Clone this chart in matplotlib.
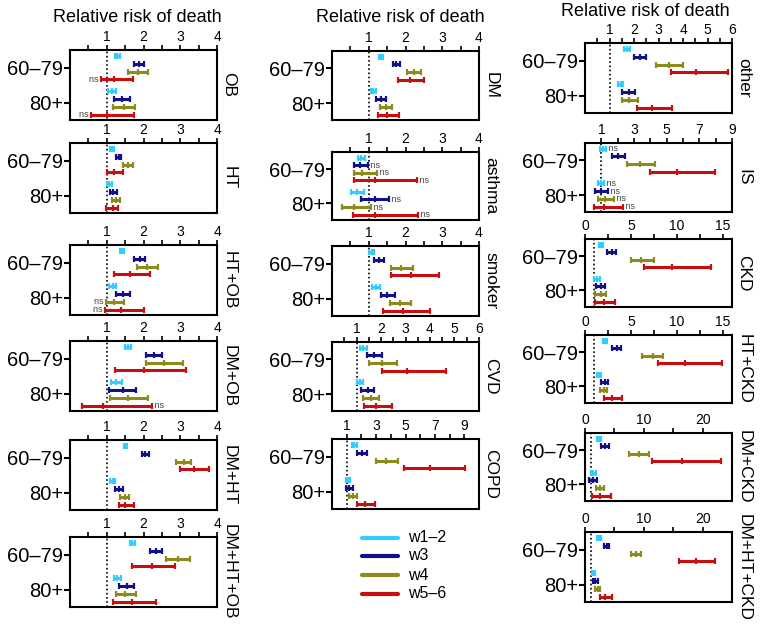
import matplotlib
matplotlib.use('Agg')
import matplotlib.pyplot as plt
from matplotlib.lines import Line2D

plt.rcParams['font.family'] = ['Liberation Sans', 'DejaVu Sans']

groups = ['60–79', '80+']
waves = ['w1–2', 'w3', 'w4', 'w5–6']
colors = ['#33CCFF', '#10108A', '#8C8C1C', '#C41010']
title = 'Relative risk of death'

# rows: 60–79 (w1–2, w3, w4, w5–6), then 80+ (w1–2, w3, w4, w5–6); (low, estimate, high)
OB = [(1.23, 1.29, 1.36), (1.73, 1.87, 2.01), (1.58, 1.84, 2.12), (0.83, 1.20, 1.72),
      (1.04, 1.14, 1.25), (1.20, 1.41, 1.63), (1.16, 1.46, 1.78), (0.58, 1.00, 1.73)]
OB_ns = '...L...L'
HT = [(1.09, 1.15, 1.20), (1.25, 1.32, 1.39), (1.45, 1.58, 1.71), (1.02, 1.21, 1.43),
      (1.00, 1.07, 1.14), (1.09, 1.18, 1.27), (1.13, 1.24, 1.35), (0.99, 1.16, 1.31)]
HT_ns = '........'
HT_OB = [(1.35, 1.41, 1.47), (1.75, 1.90, 2.05), (1.82, 2.09, 2.39), (1.21, 1.62, 2.18),
         (1.07, 1.16, 1.25), (1.25, 1.45, 1.64), (0.97, 1.20, 1.48), (0.96, 1.39, 2.00)]
HT_OB_ns = '......LL'
DM_OB = [(1.50, 1.57, 1.65), (2.06, 2.29, 2.50), (2.06, 2.55, 3.07), (1.23, 2.00, 3.16),
         (1.11, 1.26, 1.41), (1.06, 1.43, 1.80), (1.09, 1.57, 2.12), (0.34, 0.89, 2.23)]
DM_OB_ns = '.......R'
DM_HT = [(1.47, 1.51, 1.56), (1.96, 2.05, 2.14), (2.89, 3.10, 3.30), (3.00, 3.37, 3.77),
         (1.10, 1.16, 1.22), (1.22, 1.33, 1.43), (1.36, 1.49, 1.60), (1.32, 1.51, 1.74)]
DM_HT_ns = '........'
DM_HT_OB = [(1.63, 1.69, 1.76), (2.19, 2.33, 2.49), (2.62, 2.95, 3.27), (1.70, 2.22, 2.86),
            (1.20, 1.29, 1.39), (1.34, 1.54, 1.75), (1.25, 1.51, 1.79), (1.18, 1.69, 2.35)]
DM_HT_OB_ns = '........'

DM = [(1.28, 1.33, 1.38), (1.65, 1.75, 1.85), (2.05, 2.22, 2.42), (1.79, 2.11, 2.50),
      (1.06, 1.12, 1.19), (1.21, 1.34, 1.47), (1.30, 1.47, 1.64), (1.24, 1.51, 1.83)]
DM_ns = '........'
asthma = [(0.70, 0.80, 0.91), (0.59, 0.77, 0.98), (0.59, 0.82, 1.23), (0.59, 1.17, 2.32),
          (0.52, 0.69, 0.86), (0.80, 1.18, 1.56), (0.28, 0.59, 1.06), (0.57, 1.16, 2.33)]
asthma_ns = '.RRR.RRR'
smoker = [(1.02, 1.09, 1.15), (1.14, 1.28, 1.42), (1.60, 1.89, 2.20), (1.60, 2.16, 2.90),
          (1.10, 1.20, 1.31), (1.32, 1.51, 1.72), (1.57, 1.86, 2.16), (1.38, 1.93, 2.67)]
smoker_ns = '........'
CVD = [(1.14, 1.27, 1.41), (1.41, 1.72, 2.03), (1.52, 2.03, 2.65), (2.06, 3.07, 4.65),
       (1.00, 1.13, 1.27), (1.20, 1.45, 1.72), (1.27, 1.59, 1.92), (1.30, 1.78, 2.43)]
CVD_ns = '........'
COPD = [(1.38, 1.53, 1.68), (1.68, 2.04, 2.40), (2.98, 3.66, 4.49), (4.87, 6.68, 9.06),
        (0.95, 1.10, 1.22), (0.95, 1.18, 1.45), (1.18, 1.45, 1.72), (1.72, 2.24, 2.91)]
COPD_ns = '........'

other = [(1.61, 1.72, 1.83), (1.99, 2.23, 2.50), (2.91, 3.42, 3.99), (3.51, 4.53, 5.83),
         (1.33, 1.45, 1.56), (1.52, 1.79, 2.05), (1.51, 1.81, 2.16), (2.12, 2.75, 3.56)]
other_ns = '........'
IS = [(0.94, 1.10, 1.26), (1.65, 2.05, 2.46), (2.60, 3.35, 4.29), (3.96, 5.61, 7.95),
      (0.81, 1.00, 1.18), (0.59, 0.98, 1.42), (0.81, 1.24, 1.79), (0.57, 1.18, 2.30)]
IS_ns = 'R...RRRR'
CKD = [(1.54, 1.75, 1.95), (2.43, 2.90, 3.42), (4.96, 6.14, 7.46), (6.43, 9.49, 13.70),
       (0.99, 1.30, 1.58), (1.21, 1.69, 2.20), (1.14, 1.76, 2.32), (1.10, 2.02, 3.24)]
CKD_ns = '........'
HT_CKD = [(1.95, 2.17, 2.39), (2.98, 3.49, 3.97), (6.25, 7.35, 8.49), (7.90, 10.88, 14.90),
          (1.29, 1.50, 1.76), (1.76, 2.13, 2.54), (1.58, 2.02, 2.43), (2.06, 2.94, 4.08)]
HT_CKD_ns = '........'
DM_CKD = [(2.07, 2.40, 2.80), (2.80, 3.36, 4.03), (7.45, 9.13, 10.80), (11.37, 16.50, 23.20),
          (1.00, 1.40, 1.80), (0.73, 1.34, 1.96), (1.79, 2.52, 3.25), (1.12, 2.52, 4.48)]
DM_CKD_ns = '........'
DM_HT_CKD = [(2.10, 2.40, 2.70), (3.25, 3.70, 4.15), (7.87, 8.65, 9.44), (16.07, 18.88, 22.13),
             (1.12, 1.40, 1.68), (1.35, 1.74, 2.13), (1.69, 2.13, 2.58), (2.47, 3.48, 4.55)]
DM_HT_CKD_ns = '........'

# layout (pixels)
W, H = 764, 628
fig = plt.figure(figsize=(W / 100, H / 100), dpi=100)

ax4 = dict(xlim=(0, 4), major=[1, 2, 3, 4], minor=[0.5, 1.5, 2.5, 3.5])
ax6 = dict(xlim=(0, 6), major=[1, 2, 3, 4, 5, 6], minor=[0.5, 1.5, 2.5, 3.5, 4.5, 5.5])
ax9 = dict(xlim=(0, 9), major=[1, 3, 5, 7, 9], minor=[2, 4, 6, 8])
ax10 = dict(xlim=(0, 10), major=[1, 3, 5, 7, 9], minor=[2, 4, 6, 8])
ax16 = dict(xlim=(0, 16), major=[0, 5, 10, 15], minor=[2.5, 7.5, 12.5])
ax25 = dict(xlim=(0, 25), major=[0, 10, 20], minor=[5, 15])

panels = [
    ('OB', OB, OB_ns, 70, 50, 70, ax4),
    ('HT', HT, HT_ns, 70, 143, 70, ax4),
    ('HT+OB', HT_OB, HT_OB_ns, 70, 245, 70, ax4),
    ('DM+OB', DM_OB, DM_OB_ns, 70, 341, 70, ax4),
    ('DM+HT', DM_HT, DM_HT_ns, 70, 440, 70, ax4),
    ('DM+HT+OB', DM_HT_OB, DM_HT_OB_ns, 70, 537, 70, ax4),
    ('DM', DM, DM_ns, 332, 51, 69, ax4),
    ('asthma', asthma, asthma_ns, 332, 152, 68, ax4),
    ('smoker', smoker, smoker_ns, 332, 246, 70, ax4),
    ('CVD', CVD, CVD_ns, 332, 342, 69, ax6),
    ('COPD', COPD, COPD_ns, 332, 439, 70, ax10),
    ('other', other, other_ns, 585, 43, 70, ax6),
    ('IS', IS, IS_ns, 585, 143, 69, ax9),
    ('CKD', CKD, CKD_ns, 585, 239, 68, ax16),
    ('HT+CKD', HT_CKD, HT_CKD_ns, 585, 335, 68, ax16),
    ('DM+CKD', DM_CKD, DM_CKD_ns, 585, 433, 68, ax25),
    ('DM+HT+CKD', DM_HT_CKD, DM_HT_CKD_ns, 585, 532, 70, ax25),
]

ypos = [0, 1, 2, 3, 4.5, 5.5, 6.5, 7.5]
PW = 147

for name, data, ns, x0, top, h, spec in panels:
    ax = fig.add_axes([x0 / W, 1 - (top + h) / H, PW / W, h / H])
    ax.axvline(1, color='black', ls=(0, (1, 1.5)), lw=1.2, zorder=1)
    for i, (lo, est, hi) in enumerate(data):
        c = colors[i % 4]
        ax.errorbar(est, ypos[i], xerr=[[est - lo], [hi - est]], fmt='|', color=c,
                    ms=4, mew=1.6, elinewidth=2.2, capsize=2.2, capthick=1.6, zorder=3)
        if ns[i] == 'L':
            ax.text(lo, ypos[i], 'ns ', ha='right', va='center', fontsize=6.5, color='#444444')
        elif ns[i] == 'R':
            ax.text(hi, ypos[i], ' ns', ha='left', va='center', fontsize=6.5, color='#444444')
    ax.set_xlim(*spec['xlim'])
    ax.set_ylim(8.2, -0.75)
    ax.xaxis.tick_top()
    ax.set_xticks(spec['major'])
    ax.set_xticklabels([str(v) for v in spec['major']], fontsize=10)
    ax.set_xticks(spec['minor'], minor=True)
    ax.tick_params(axis='x', which='both', direction='out', length=3.5, width=1.2, pad=1)
    ax.set_yticks([1.5, 6.0])
    ax.set_yticklabels(groups, fontsize=14.5)
    ax.tick_params(axis='y', direction='out', length=4, width=1.5, pad=1)
    for s in ax.spines.values():
        s.set_linewidth(1.5)
    fig.text((x0 + PW + 12) / W, 1 - (top + h / 2) / H, name, rotation=270,
             ha='center', va='center', fontsize=12.5)

for cx, cy in [(137, 17), (400, 17), (645, 12)]:
    fig.text(cx / W, 1 - cy / H, title, ha='center', va='center', fontsize=13)

# legend
for k, (lab, c) in enumerate(zip(waves, colors)):
    yy = [538, 556, 575, 594][k]
    fig.add_artist(Line2D([362 / W, 398 / W], [1 - yy / H, 1 - yy / H],
                          transform=fig.transFigure, color=c, lw=3.0, solid_capstyle='round'))
    fig.text(408 / W, 1 - yy / H, lab, ha='left', va='center', fontsize=11.5)

fig.savefig('out.png', dpi=100)
